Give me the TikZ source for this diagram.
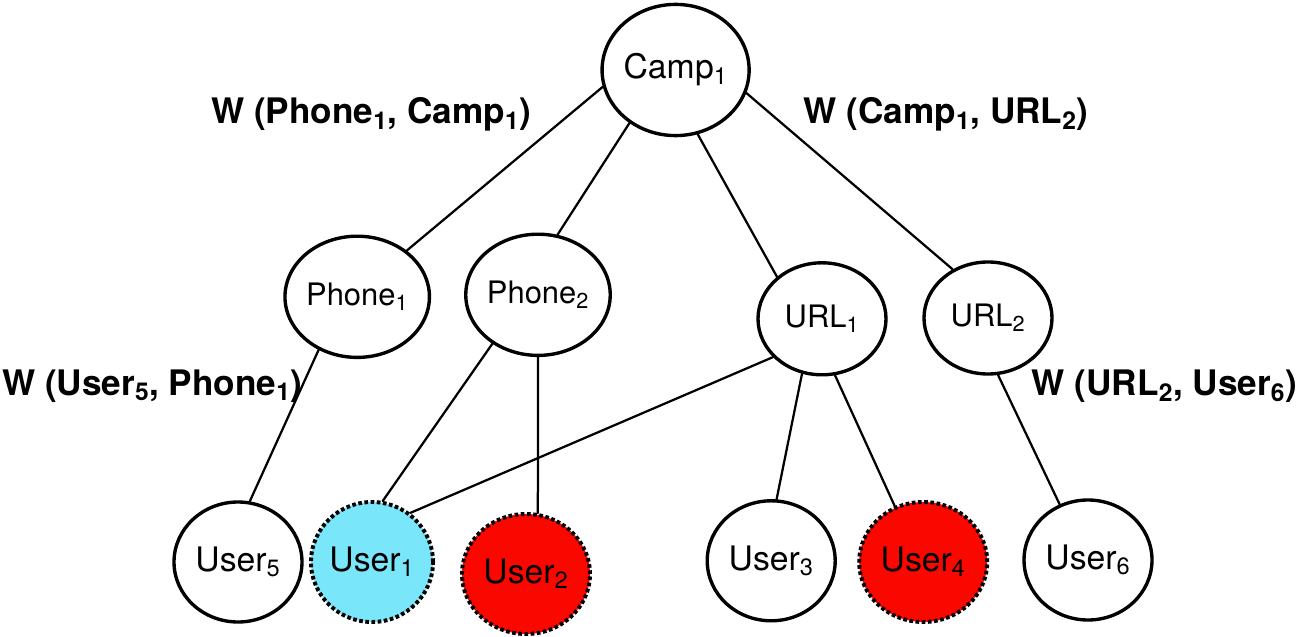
\documentclass[tikz,border=0pt]{standalone}
\usepackage{fontspec}
\setmainfont{TeX Gyre Heros}
\usetikzlibrary{shapes.geometric}
\definecolor{usercyan}{RGB}{122,230,250}
\definecolor{userred}{RGB}{250,8,0}
\begin{document}
\begin{tikzpicture}[line join=round, line cap=round,
	ent/.style={draw, ellipse, line width=2.4pt, inner sep=0pt, fill=white,
		minimum width=3.2cm, minimum height=3cm, font=\fontsize{24}{28}\selectfont},
	feat/.style={ent, font=\fontsize{22}{26}\selectfont},
	suspect/.style={ent, line cap=butt, line width=2.8pt, dash pattern=on 2.6pt off 1.8pt},
	wlabel/.style={font=\fontsize{25}{30}\selectfont\bfseries},
	link/.style={line width=1.6pt}]

	\useasboundingbox (0,0) rectangle (32.45,15.9);

	% --- campaign and its features ---
	\node[ent, minimum width=3.45cm, minimum height=3.28cm] (camp) at (16.89,14.15) {Camp\textsubscript{1}};
	\node[feat, minimum width=3.43cm, minimum height=3.03cm] (phone1) at (8.93,8.48) {Phone\textsubscript{1}};
	\node[feat, minimum width=3.43cm, minimum height=3.03cm] (phone2) at (13.45,8.53) {Phone\textsubscript{2}};
	\node[feat, minimum height=2.8cm] (url1) at (20.55,7.93) {URL\textsubscript{1}};
	\node[feat, minimum height=2.8cm] (url2) at (24.7,7.95) {URL\textsubscript{2}};

	% --- users ---
	\node[ent] (user5) at (5.95,1.85) {User\textsubscript{5}};
	\node[suspect, fill=usercyan, minimum width=3.05cm] (user1) at (9.3,1.85) {User\textsubscript{1}};
	\node[suspect, fill=userred] (user2) at (13.15,1.55) {User\textsubscript{2}};
	\node[ent] (user3) at (19.28,1.88) {User\textsubscript{3}};
	\node[suspect, fill=userred] (user4) at (23.08,1.85) {User\textsubscript{4}};
	\node[ent] (user6) at (27.2,1.9) {User\textsubscript{6}};

	% --- links ---
	\foreach \a/\b in {camp.193/phone1.43, camp.229/phone2.72, camp.289/url1.137,
		camp.342/url2.126, phone1.234/user5.79, phone2.227/user1.80,
		phone2.south/user2.79, url1.218/user1.52, url1.250/user3.85,
		url1.283/user4.117, url2.280/user6.117} {
		\draw[link] (\a) -- (\b);
	}

	% --- weights ---
	\node[wlabel] (wpc) at (9.28,13.03) {W (Phone\textsubscript{1}, Camp\textsubscript{1})};
	\node[wlabel] (wcu) at (23.65,13.03) {W (Camp\textsubscript{1}, URL\textsubscript{2})};
	\node[wlabel, anchor=west, inner sep=0pt] (wup) at (0.05,6.25) {W (User\textsubscript{5}, Phone\textsubscript{1})};
	\node[wlabel, anchor=east, inner sep=0pt] (wuu) at (32.43,6.25) {W (URL\textsubscript{2}, User\textsubscript{6})};

\end{tikzpicture}
\end{document}
